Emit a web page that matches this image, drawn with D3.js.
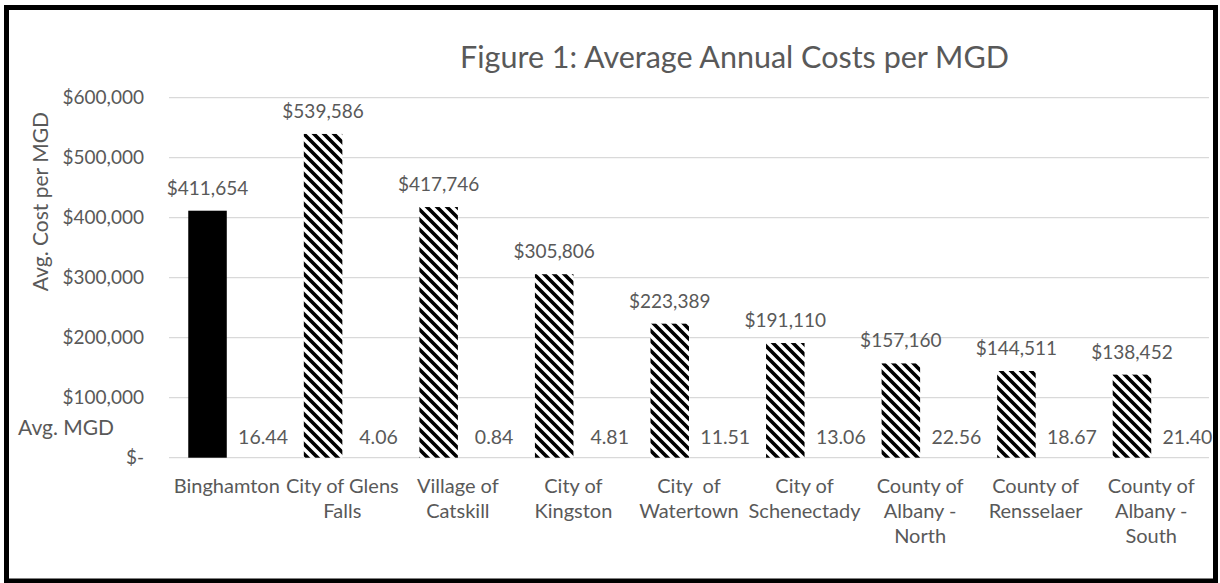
<!DOCTYPE html>
<html>
<head>
<meta charset="utf-8">
<script src="https://cdn.jsdelivr.net/npm/d3@7"></script>
<style>
  html, body { margin: 0; padding: 0; background: #fff; }
  svg { display: block; }
  text { font-family: Lato, "Open Sans", sans-serif; fill: #595959; }
</style>
</head>
<body>
<svg id="chart" width="1220" height="583"></svg>
<script>
// ---- data ----
const categories = ["Binghamton", "City of Glens Falls", "Village of Catskill", "City of Kingston",
  "City  of Watertown", "City of Schenectady", "County of Albany - North", "County of Rensselaer",
  "County of Albany - South"];
const categoryLines = [
  ["Binghamton"], ["City of Glens", "Falls"], ["Village of", "Catskill"], ["City of", "Kingston"],
  ["City  of", "Watertown"], ["City of", "Schenectady"], ["County of", "Albany -", "North"],
  ["County of", "Rensselaer"], ["County of", "Albany -", "South"]];
const costValues = [411654, 539586, 417746, 305806, 223389, 191110, 157160, 144511, 138452];
const mgdValues = [16.44, 4.06, 0.84, 4.81, 11.51, 13.06, 22.56, 18.67, 21.40];
const yTickValues = [0, 100000, 200000, 300000, 400000, 500000, 600000];
const yTickLabels = ["$-", "$100,000", "$200,000", "$300,000", "$400,000", "$500,000", "$600,000"];
const seriesNames = ["cost", "mgd"];

const svg = d3.select("#chart");
const W = 1220, H = 583;
const plot = { left: 169, right: 1209, top: 97.7, bottom: 457.7 };

svg.append("rect").attr("x", 0).attr("y", 0).attr("width", W).attr("height", H).attr("fill", "#fff");

// pattern (wide downward diagonal)
const P = 10;
const defs = svg.append("defs");
const pat = defs.append("pattern").attr("id", "diag").attr("patternUnits", "userSpaceOnUse")
  .attr("width", P).attr("height", P);
pat.append("rect").attr("width", P).attr("height", P).attr("fill", "#fff");
pat.append("path")
  .attr("d", `M-2,-2 L${P + 2},${P + 2} M${P - 2},-2 L${P + 2},2 M-2,${P - 2} L2,${P + 2}`)
  .attr("stroke", "#000").attr("stroke-width", 3.6).attr("fill", "none");

const x = d3.scaleBand().domain(categories).range([plot.left, plot.right]).paddingInner(0).paddingOuter(0);
const x1 = d3.scaleBand().domain(seriesNames).range([0, x.bandwidth()]).paddingInner(0).paddingOuter(0.5);
const y = d3.scaleLinear().domain([0, 600000]).range([plot.bottom, plot.top]);

// gridlines
svg.append("g").selectAll("line").data(yTickValues).join("line")
  .attr("x1", plot.left).attr("x2", plot.right)
  .attr("y1", d => y(d)).attr("y2", d => y(d))
  .attr("stroke", "#d9d9d9").attr("stroke-width", 1.3);

// y tick labels via axis
const yAxis = d3.axisLeft(y).tickValues(yTickValues).tickSize(0).tickPadding(0)
  .tickFormat((d, i) => yTickLabels[i]);
const gy = svg.append("g").attr("transform", "translate(144,0)").call(yAxis);
gy.select(".domain").remove();
gy.selectAll("text").attr("font-size", 19).attr("fill", "#595959")
  .style("font-family", "Lato, 'Open Sans', sans-serif");

// bars
svg.append("g").selectAll("rect").data(categories).join("rect")
  .attr("x", d => x(d) + x1("cost"))
  .attr("width", x1.bandwidth())
  .attr("y", (d, i) => y(costValues[i]))
  .attr("height", (d, i) => y(0) - y(costValues[i]))
  .attr("fill", (d, i) => i === 0 ? "#000" : "url(#diag)");

// cost labels
const fmt = d3.format(",");
svg.append("g").selectAll("text").data(categories).join("text")
  .attr("x", d => x(d) + x1("cost") + x1.bandwidth() / 2)
  .attr("y", (d, i) => y(costValues[i]) - 16)
  .attr("text-anchor", "middle").attr("font-size", 19)
  .text((d, i) => "$" + fmt(costValues[i]));

// mgd labels
svg.append("g").selectAll("text").data(categories).join("text")
  .attr("x", d => x(d) + x1("mgd") + x1.bandwidth() / 2 + 17)
  .attr("y", (d, i) => y(mgdValues[i]) - 13.5)
  .attr("text-anchor", "middle").attr("font-size", 19.5)
  .text((d, i) => mgdValues[i].toFixed(2));

// category labels
const cg = svg.append("g").selectAll("text").data(categories).join("text")
  .attr("text-anchor", "middle").attr("font-size", 20).style("white-space", "pre");
cg.each(function (d, i) {
  const t = d3.select(this);
  categoryLines[i].forEach((ln, j) => {
    t.append("tspan").attr("x", x(d) + x.bandwidth() / 2).attr("y", 493.3 + j * 25).text(ln);
  });
});

// titles
svg.append("text").attr("x", 734.5).attr("y", 68).attr("text-anchor", "middle")
  .attr("font-size", 30.5).text("Figure 1: Average Annual Costs per MGD");
svg.append("text").attr("transform", "translate(48,112) rotate(-90)").attr("text-anchor", "end")
  .attr("font-size", 21).text("Avg. Cost per MGD");
svg.append("text").attr("x", 18).attr("y", 435).attr("font-size", 21).text("Avg. MGD");

// frame
svg.append("rect").attr("x", 6.5).attr("y", 7.5).attr("width", 1209).attr("height", 573.5)
  .attr("fill", "none").attr("stroke", "#000").attr("stroke-width", 5);
</script>
</body>
</html>
